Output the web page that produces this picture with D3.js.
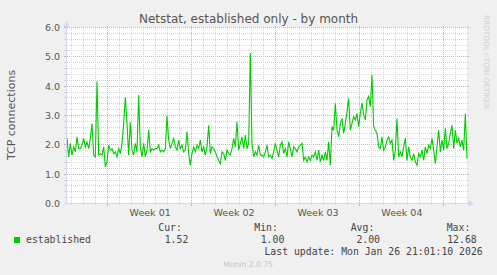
<!DOCTYPE html>
<html>
<head>
<meta charset="utf-8">
<script src="https://cdn.jsdelivr.net/npm/d3@7"></script>
<style>
   body { margin: 0; background: #f0f0f0; }
   svg { display: block; }
   text { font-family: "DejaVu Sans", sans-serif; fill: #555; }
   .mono { font-family: "DejaVu Sans Mono", monospace; fill: #444; }
</style>
</head>
<body>
<div class="chart-container"></div>
<script>
const title = 'Netstat, established only - by month';
const y_label = 'TCP connections';
const y_ticks = [0, 1, 2, 3, 4, 5, 6];
const week_labels = ['Week 01', 'Week 02', 'Week 03', 'Week 04'];
const series_name = 'established';
const stat_labels = ['Cur:', 'Min:', 'Avg:', 'Max:'];
const stat_values = ['1.52', '1.00', '2.00', '12.68'];
const last_update = 'Last update: Mon Jan 26 21:01:10 2026';
const footer = 'Munin 2.0.75';
const watermark = 'RRDTOOL / TOBI OETIKER';
const period = [new Date('2025-12-24T14:30:00Z'), new Date('2026-01-26T23:25:00Z')];

// samples, evenly spaced over the period
const established = [
   2.22, 1.59, 2.05, 1.65, 1.93, 1.76, 2.27, 1.87, 1.87, 1.99, 2.22, 1.93, 2.10, 1.87, 2.22, 2.73,
   1.65, 1.59, 4.16, 1.65, 1.70, 1.65, 1.93, 1.25, 1.42, 1.99, 1.82, 1.87, 1.70, 1.76, 1.59, 1.87,
   1.70, 2.05, 2.73, 3.62, 2.73, 1.65, 2.77, 1.82, 1.65, 2.05, 1.76, 3.70, 1.93, 1.59, 2.05, 1.59,
   1.82, 2.50, 1.76, 1.87, 1.82, 1.87, 1.87, 1.99, 1.76, 1.82, 1.76, 1.87, 2.98, 2.16, 1.87, 2.05,
   2.22, 1.93, 1.82, 2.16, 1.87, 1.99, 1.76, 1.82, 2.45, 1.70, 1.30, 1.70, 1.93, 1.76, 1.99, 1.87,
   2.16, 1.76, 1.93, 1.65, 1.93, 2.67, 1.70, 1.93, 1.87, 1.76, 1.59, 1.47, 1.36, 1.76, 1.70, 1.47,
   1.82, 1.70, 1.65, 1.87, 2.22, 1.93, 2.79, 1.82, 2.05, 2.27, 1.87, 2.33, 1.87, 2.05, 5.13, 2.05,
   1.59, 1.76, 1.65, 1.99, 1.65, 1.65, 1.59, 1.76, 1.99, 1.59, 1.65, 1.53, 1.76, 2.05, 1.82, 1.59,
   1.99,
   2.10, 1.70, 1.87, 1.59, 2.10, 1.87, 1.59, 1.93, 1.87, 1.76, 1.93, 1.99, 2.05, 1.47, 1.59, 1.42,
   1.59, 1.47, 1.65, 1.59, 1.76, 1.47, 1.82, 1.42, 1.65, 1.47, 1.76, 1.47, 2.10, 1.30, 2.62, 2.50,
   3.42, 2.50, 2.27, 2.73, 2.90, 2.39, 2.73, 3.13, 3.59, 2.50, 2.73, 2.96, 2.85, 3.07, 2.62, 3.07,
   3.42, 3.02, 2.85, 3.53, 3.65, 3.30, 4.39, 2.62, 2.50, 2.39, 1.93, 1.87, 2.27, 1.82, 1.93, 2.16,
   2.27, 2.05, 2.16, 1.47, 1.82, 2.90, 1.59, 1.76, 1.59, 1.93, 2.22, 1.47, 1.93, 1.59, 1.47, 1.70,
   1.42, 1.30, 1.70, 1.59, 1.82, 1.47, 1.93, 1.70, 1.99, 1.87, 2.22, 1.82, 1.36, 1.93, 2.50, 1.76,
   2.16, 1.82, 2.56, 1.87, 2.05, 2.39, 2.67, 1.87, 2.50, 2.05, 2.22, 1.93, 2.16, 1.82, 3.07, 1.53
];

const line_color = '#00cc00';
const grid_color = '#d4d4d4';
const mgrid_color = '#eba4a4';
const axis_color = '#cfd6f8';

function build_x_scale(left, right) {
   return d3.scaleUtc()
      .domain(period)
      .range([left, right]);
}

function build_y_scale(bottom, top) {
   return d3.scaleLinear()
      .domain([0, 6])
      .range([bottom, top]);
}

function build_graph(width, height) {
   return d3.select('.chart-container')
      .append('svg')
      .attr('width', width)
      .attr('height', height);
}

function crisp(v) {
   return Math.floor(v) + 0.5;
}

function draw_grid(svg, xScale, yScale, plot) {
   const g = svg.append('g').attr('class', 'grid');

   // horizontal lines every 0.2, major every 1.0
   const minor_y = d3.range(0, 31).filter(i => i % 5 !== 0).map(i => i / 5);
   const rows = minor_y.map(v => ({v, major: false}))
      .concat(y_ticks.map(v => ({v, major: true})));
   rows.forEach(r => {
      const y = crisp(yScale(r.v));
      const col = r.major ? mgrid_color : grid_color;
      g.append('line')
         .attr('x1', plot.left).attr('x2', plot.right)
         .attr('y1', y).attr('y2', y)
         .attr('stroke', col)
         .attr('stroke-dasharray', '1,1');
      g.append('line')
         .attr('x1', plot.left - 3).attr('x2', plot.left)
         .attr('y1', y).attr('y2', y)
         .attr('stroke', col);
      g.append('line')
         .attr('x1', plot.right).attr('x2', plot.right + 2)
         .attr('y1', y).attr('y2', y)
         .attr('stroke', col);
   });

   // vertical lines: days, weeks starting on sunday
   const weeks = d3.utcSunday.range(period[0], period[1]);
   const days = d3.utcDay.range(period[0], period[1])
      .filter(d => !weeks.some(w => +w === +d));
   const cols = days.map(d => ({d, major: false}))
      .concat(weeks.map(d => ({d, major: true})));
   cols.forEach(c => {
      const x = crisp(xScale(c.d));
      const col = c.major ? mgrid_color : grid_color;
      g.append('line')
         .attr('x1', x).attr('x2', x)
         .attr('y1', plot.top).attr('y2', plot.bottom)
         .attr('stroke', col)
         .attr('stroke-dasharray', '1,1');
      g.append('line')
         .attr('x1', x).attr('x2', x)
         .attr('y1', plot.top - 2).attr('y2', plot.top)
         .attr('stroke', col);
      g.append('line')
         .attr('x1', x).attr('x2', x)
         .attr('y1', plot.bottom).attr('y2', plot.bottom + (c.major ? 3 : 2))
         .attr('stroke', col);
   });
   return weeks;
}

function draw_axes(svg, xScale, yScale, plot, weeks) {
   const x0 = crisp(plot.left - 1);
   const y0 = crisp(yScale(0));

   svg.append('line')
      .attr('x1', x0).attr('x2', x0)
      .attr('y1', y0).attr('y2', plot.top - 4)
      .attr('stroke', axis_color);
   svg.append('path')
      .attr('d', `M${x0 - 3},${plot.top - 1}L${x0},${plot.top - 7}L${x0 + 3},${plot.top - 1}Z`)
      .attr('fill', axis_color);
   svg.append('line')
      .attr('x1', plot.left - 3).attr('x2', plot.right + 3)
      .attr('y1', y0).attr('y2', y0)
      .attr('stroke', axis_color);
   svg.append('path')
      .attr('d', `M${plot.right + 1},${y0 - 3}L${plot.right + 7},${y0}L${plot.right + 1},${y0 + 3}Z`)
      .attr('fill', axis_color);

   const yAxis = d3.axisLeft(yScale)
      .tickValues(y_ticks)
      .tickFormat(d3.format('.1f'))
      .tickSize(0)
      .tickPadding(7);
   const yAxisDraw = svg.append('g')
      .attr('transform', `translate(${plot.left},0)`)
      .call(yAxis);
   yAxisDraw.select('.domain').remove();
   yAxisDraw.selectAll('text')
      .style('font-family', '"DejaVu Sans", sans-serif')
      .style('font-size', '9.5px')
      .attr('fill', '#555');

   // week labels sit in the middle of each week
   const mids = weeks.map(w => new Date(+w + 3.5 * 864e5))
      .filter(m => m > period[0] && m < period[1]);
   const xAxis = d3.axisBottom(xScale)
      .tickValues(mids)
      .tickFormat((d, i) => week_labels[i])
      .tickSize(0)
      .tickPadding(6);
   const xAxisDraw = svg.append('g')
      .attr('transform', `translate(0,${plot.bottom})`)
      .call(xAxis);
   xAxisDraw.select('.domain').remove();
   xAxisDraw.selectAll('text')
      .style('font-family', '"DejaVu Sans", sans-serif')
      .style('font-size', '9.5px')
      .attr('fill', '#555');
}

function draw_line(svg, xScale, yScale) {
   const step = (period[1] - period[0]) / (established.length - 1);
   const data = established.map((v, i) => ({t: new Date(+period[0] + i * step), v}));
   const line = d3.line()
      .x(d => xScale(d.t))
      .y(d => yScale(d.v));
   return svg.append('path')
      .datum(data)
      .attr('d', line)
      .attr('fill', 'none')
      .attr('stroke', line_color)
      .attr('stroke-width', 1.1);
}

function draw_texts(svg) {
   svg.append('text')
      .attr('x', 248.5).attr('y', 23)
      .attr('text-anchor', 'middle')
      .style('font-size', '12px')
      .text(title);

   svg.append('text')
      .attr('transform', 'translate(15,115) rotate(-90)')
      .attr('text-anchor', 'middle')
      .style('font-size', '11px')
      .text(y_label);

   svg.append('text')
      .attr('transform', 'translate(484,15) rotate(90)')
      .style('font-size', '7.3px')
      .style('fill', '#d0d0d0')
      .text(watermark);

   // legend
   svg.append('rect')
      .attr('x', 14).attr('y', 237)
      .attr('width', 6).attr('height', 6)
      .attr('fill', line_color);
   svg.append('text').attr('class', 'mono')
      .attr('x', 26).attr('y', 243)
      .style('font-size', '9.8px')
      .text(series_name);

   const label_x = [158.3, 254.3, 350.7, 446.7];
   const value_right = [188.3, 284.3, 380, 476.7];
   stat_labels.forEach((s, i) => {
      svg.append('text').attr('class', 'mono')
         .attr('x', label_x[i]).attr('y', 231.3)
         .style('font-size', '9.8px')
         .text(s);
      svg.append('text').attr('class', 'mono')
         .attr('x', value_right[i]).attr('y', 243)
         .attr('text-anchor', 'end')
         .style('font-size', '9.8px')
         .text(stat_values[i]);
   });

   svg.append('text').attr('class', 'mono')
      .attr('x', 482.7).attr('y', 255.3)
      .attr('text-anchor', 'end')
      .style('font-size', '9.8px')
      .text(last_update);

   svg.append('text')
      .attr('x', 248).attr('y', 266.8)
      .attr('text-anchor', 'middle')
      .style('font-size', '7.6px')
      .style('fill', '#c4c4c4')
      .text(footer);
}

function build_chart() {
   const plot = {left: 67, right: 467, top: 28, bottom: 203};
   const svg = build_graph(497, 275);

   svg.append('rect')
      .attr('x', plot.left).attr('y', plot.top - 1)
      .attr('width', plot.right - plot.left).attr('height', plot.bottom - plot.top + 1)
      .attr('fill', '#ffffff');

   let xScale = build_x_scale(plot.left, plot.right);
   let yScale = build_y_scale(203.5, 27.5);
   let weeks = draw_grid(svg, xScale, yScale, plot);
   draw_line(svg, xScale, yScale);
   draw_axes(svg, xScale, yScale, plot, weeks);
   draw_texts(svg);
}

build_chart();
</script>
</body>
</html>
